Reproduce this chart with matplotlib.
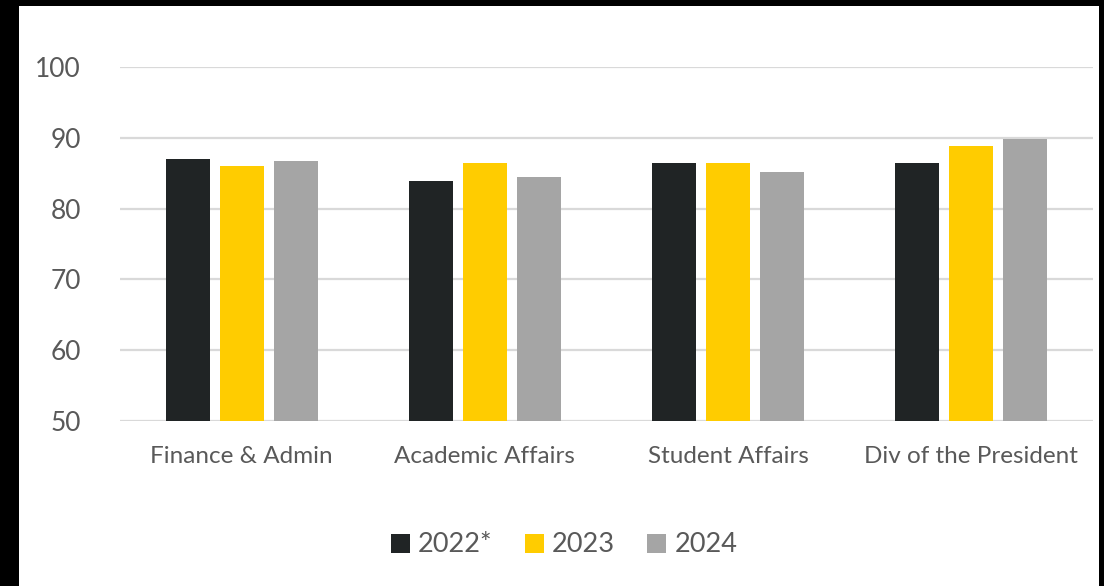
import numpy as np
import matplotlib
matplotlib.use("Agg")
from matplotlib import pyplot as plt
from matplotlib.patches import Rectangle

categories = ["Finance & Admin", "Academic Affairs", "Student Affairs", "Div of the President"]
series_names = ["2022*", "2023", "2024"]
vals_2022 = [87.0, 83.9, 86.5, 86.4]
vals_2023 = [86.0, 86.5, 86.4, 88.8]
vals_2024 = [86.7, 84.4, 85.2, 89.9]
colors = ["#202425", "#FFCC00", "#A5A5A5"]

plt.rcParams['font.family'] = ['Lato', 'DejaVu Sans']

W, H = 1104, 586
fig = plt.figure(figsize=(W / 100, H / 100), dpi=100, facecolor="black")
# white panel inside the black frame
fig.patches.append(Rectangle((19 / W, 0), (1099 - 19) / W, 1 - 6 / H,
                             transform=fig.transFigure, facecolor="white",
                             edgecolor="none", zorder=-10))

ax = fig.add_axes([120 / W, 1 - 421 / H, (1093 - 120) / W, (421 - 67) / H])
ax.set_facecolor("none")

x = np.arange(len(categories))
width = 0.18
step = 0.222
for i, (vals, name) in enumerate(zip([vals_2022, vals_2023, vals_2024], series_names)):
    ax.bar(x + (i - 1) * step, vals, width, color=colors[i], label=name, zorder=3)

ax.set_ylim(50, 100)
ax.set_xlim(-0.5, len(categories) - 0.5)
ax.set_yticks([50, 60, 70, 80, 90, 100])
ax.yaxis.grid(True, color="#D9D9D9", linewidth=1.6, zorder=0)
ax.set_axisbelow(True)
for s in ax.spines.values():
    s.set_visible(False)
ax.set_xticks(x)
ax.set_xticklabels(categories)
ax.tick_params(axis="y", length=0, pad=28, labelsize=19, labelcolor="#595959")
ax.tick_params(axis="x", length=0, pad=18, labelsize=17.5, labelcolor="#595959")

leg = fig.legend(loc="center", bbox_to_anchor=(564 / W, 1 - 545 / H), ncol=3,
                 frameon=False, fontsize=19.5, handlelength=0.7, handleheight=0.7,
                 handletextpad=0.3, columnspacing=1.2, labelcolor="#595959")

fig.savefig("out.png", dpi=100, facecolor=fig.get_facecolor())
